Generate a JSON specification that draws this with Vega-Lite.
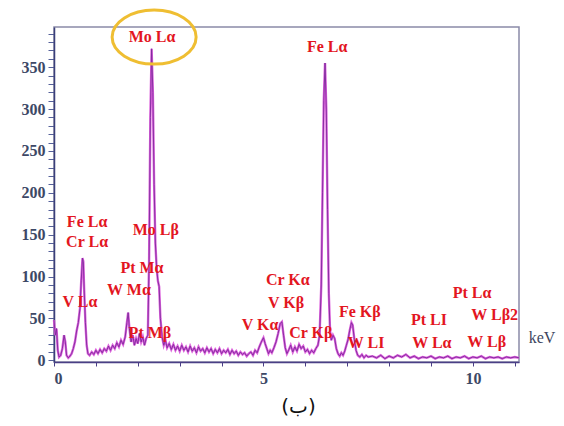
{
  "$schema": "https://vega.github.io/schema/vega-lite/v6.json",
  "autosize": "none",
  "width": 465,
  "height": 335,
  "padding": {"left": 54, "top": 27, "right": 45, "bottom": 64},
  "background": "white",
  "config": {
    "view": {"stroke": "#8a8aa8", "strokeWidth": 1.5},
    "axis": {"grid": false, "labelOverlap": false}
  },
  "datasets": {
    "spectrum": [
      {"keV":0.00,"counts":48},{"keV":0.03,"counts":30},{"keV":0.06,"counts":38},{"keV":0.09,"counts":12},{"keV":0.12,"counts":4},{"keV":0.16,"counts":6},{"keV":0.20,"counts":14},{"keV":0.24,"counts":30},{"keV":0.27,"counts":22},{"keV":0.30,"counts":6},{"keV":0.34,"counts":3},{"keV":0.38,"counts":5},{"keV":0.42,"counts":8},{"keV":0.46,"counts":14},{"keV":0.50,"counts":22},{"keV":0.54,"counts":35},{"keV":0.58,"counts":45},{"keV":0.62,"counts":62},{"keV":0.65,"counts":95},{"keV":0.68,"counts":122},{"keV":0.70,"counts":118},{"keV":0.72,"counts":85},{"keV":0.75,"counts":45},{"keV":0.78,"counts":18},{"keV":0.81,"counts":8},{"keV":0.85,"counts":6},{"keV":0.90,"counts":10},{"keV":0.95,"counts":7},{"keV":1.00,"counts":12},{"keV":1.05,"counts":8},{"keV":1.10,"counts":13},{"keV":1.15,"counts":9},{"keV":1.20,"counts":14},{"keV":1.25,"counts":11},{"keV":1.30,"counts":17},{"keV":1.35,"counts":12},{"keV":1.40,"counts":18},{"keV":1.45,"counts":14},{"keV":1.50,"counts":21},{"keV":1.55,"counts":16},{"keV":1.60,"counts":24},{"keV":1.65,"counts":19},{"keV":1.70,"counts":28},{"keV":1.74,"counts":45},{"keV":1.77,"counts":57},{"keV":1.80,"counts":38},{"keV":1.84,"counts":22},{"keV":1.88,"counts":30},{"keV":1.92,"counts":18},{"keV":1.96,"counts":26},{"keV":2.00,"counts":20},{"keV":2.04,"counts":32},{"keV":2.08,"counts":22},{"keV":2.12,"counts":28},{"keV":2.16,"counts":18},{"keV":2.20,"counts":26},{"keV":2.24,"counts":30},{"keV":2.27,"counts":120},{"keV":2.30,"counts":290},{"keV":2.33,"counts":372},{"keV":2.36,"counts":320},{"keV":2.39,"counts":210},{"keV":2.42,"counts":140},{"keV":2.45,"counts":110},{"keV":2.48,"counts":95},{"keV":2.51,"counts":88},{"keV":2.54,"counts":50},{"keV":2.58,"counts":28},{"keV":2.62,"counts":18},{"keV":2.66,"counts":24},{"keV":2.70,"counts":15},{"keV":2.75,"counts":20},{"keV":2.80,"counts":13},{"keV":2.85,"counts":19},{"keV":2.90,"counts":12},{"keV":2.95,"counts":17},{"keV":3.00,"counts":11},{"keV":3.05,"counts":18},{"keV":3.10,"counts":12},{"keV":3.15,"counts":16},{"keV":3.20,"counts":10},{"keV":3.25,"counts":17},{"keV":3.30,"counts":11},{"keV":3.35,"counts":15},{"keV":3.40,"counts":9},{"keV":3.45,"counts":16},{"keV":3.50,"counts":11},{"keV":3.55,"counts":14},{"keV":3.60,"counts":9},{"keV":3.65,"counts":15},{"keV":3.70,"counts":10},{"keV":3.75,"counts":14},{"keV":3.80,"counts":8},{"keV":3.85,"counts":13},{"keV":3.90,"counts":9},{"keV":3.95,"counts":14},{"keV":4.00,"counts":8},{"keV":4.05,"counts":12},{"keV":4.10,"counts":9},{"keV":4.15,"counts":13},{"keV":4.20,"counts":7},{"keV":4.25,"counts":12},{"keV":4.30,"counts":8},{"keV":4.35,"counts":11},{"keV":4.40,"counts":6},{"keV":4.45,"counts":10},{"keV":4.50,"counts":7},{"keV":4.55,"counts":9},{"keV":4.60,"counts":5},{"keV":4.65,"counts":8},{"keV":4.70,"counts":10},{"keV":4.75,"counts":6},{"keV":4.80,"counts":12},{"keV":4.85,"counts":9},{"keV":4.90,"counts":16},{"keV":4.95,"counts":22},{"keV":5.00,"counts":27},{"keV":5.04,"counts":20},{"keV":5.08,"counts":14},{"keV":5.12,"counts":8},{"keV":5.16,"counts":12},{"keV":5.20,"counts":9},{"keV":5.25,"counts":15},{"keV":5.30,"counts":22},{"keV":5.35,"counts":32},{"keV":5.40,"counts":44},{"keV":5.44,"counts":46},{"keV":5.48,"counts":30},{"keV":5.52,"counts":15},{"keV":5.56,"counts":8},{"keV":5.60,"counts":12},{"keV":5.65,"counts":18},{"keV":5.70,"counts":10},{"keV":5.75,"counts":16},{"keV":5.80,"counts":11},{"keV":5.85,"counts":19},{"keV":5.90,"counts":14},{"keV":5.95,"counts":17},{"keV":6.00,"counts":10},{"keV":6.05,"counts":13},{"keV":6.10,"counts":8},{"keV":6.15,"counts":12},{"keV":6.20,"counts":9},{"keV":6.25,"counts":14},{"keV":6.30,"counts":18},{"keV":6.34,"counts":30},{"keV":6.38,"counts":90},{"keV":6.41,"counts":200},{"keV":6.44,"counts":310},{"keV":6.47,"counts":355},{"keV":6.50,"counts":300},{"keV":6.53,"counts":180},{"keV":6.56,"counts":80},{"keV":6.59,"counts":35},{"keV":6.62,"counts":24},{"keV":6.66,"counts":30},{"keV":6.70,"counts":26},{"keV":6.74,"counts":14},{"keV":6.78,"counts":8},{"keV":6.82,"counts":5},{"keV":6.86,"counts":9},{"keV":6.90,"counts":6},{"keV":6.94,"counts":11},{"keV":6.98,"counts":18},{"keV":7.02,"counts":25},{"keV":7.06,"counts":36},{"keV":7.10,"counts":45},{"keV":7.13,"counts":42},{"keV":7.17,"counts":25},{"keV":7.21,"counts":12},{"keV":7.25,"counts":6},{"keV":7.30,"counts":4},{"keV":7.35,"counts":7},{"keV":7.40,"counts":3},{"keV":7.45,"counts":6},{"keV":7.50,"counts":4},{"keV":7.60,"counts":5},{"keV":7.70,"counts":3},{"keV":7.80,"counts":6},{"keV":7.90,"counts":2},{"keV":8.00,"counts":5},{"keV":8.10,"counts":3},{"keV":8.20,"counts":6},{"keV":8.30,"counts":4},{"keV":8.40,"counts":7},{"keV":8.50,"counts":3},{"keV":8.60,"counts":5},{"keV":8.70,"counts":2},{"keV":8.80,"counts":4},{"keV":8.90,"counts":3},{"keV":9.00,"counts":5},{"keV":9.10,"counts":2},{"keV":9.20,"counts":4},{"keV":9.30,"counts":3},{"keV":9.40,"counts":5},{"keV":9.50,"counts":2},{"keV":9.60,"counts":4},{"keV":9.70,"counts":3},{"keV":9.80,"counts":5},{"keV":9.90,"counts":2},{"keV":10.00,"counts":4},{"keV":10.10,"counts":3},{"keV":10.20,"counts":5},{"keV":10.30,"counts":2},{"keV":10.40,"counts":4},{"keV":10.50,"counts":3},{"keV":10.60,"counts":4},{"keV":10.70,"counts":2},{"keV":10.80,"counts":4},{"keV":10.90,"counts":3},{"keV":11.00,"counts":4},{"keV":11.10,"counts":3}
    ],
    "labels": [
      {"keV":2.34,"counts":386,"label":"Mo Lα"},
      {"keV":6.52,"counts":374,"label":"Fe Lα"},
      {"keV":0.79,"counts":165,"label":"Fe Lα"},
      {"keV":0.79,"counts":141,"label":"Cr Lα"},
      {"keV":0.62,"counts":70,"label":"V Lα"},
      {"keV":2.43,"counts":156,"label":"Mo Lβ"},
      {"keV":2.10,"counts":110,"label":"Pt Mα"},
      {"keV":1.79,"counts":84,"label":"W Mα"},
      {"keV":2.29,"counts":33,"label":"Pt Mβ"},
      {"keV":5.58,"counts":96,"label":"Cr Kα"},
      {"keV":5.54,"counts":68,"label":"V Kβ"},
      {"keV":4.92,"counts":42,"label":"V Kα"},
      {"keV":6.13,"counts":33,"label":"Cr Kβ"},
      {"keV":7.30,"counts":58,"label":"Fe Kβ"},
      {"keV":7.45,"counts":21,"label":"W LI"},
      {"keV":8.95,"counts":48,"label":"Pt LI"},
      {"keV":9.02,"counts":21,"label":"W Lα"},
      {"keV":9.98,"counts":80,"label":"Pt Lα"},
      {"keV":10.52,"counts":54,"label":"W Lβ2"},
      {"keV":10.33,"counts":22,"label":"W Lβ"}
    ],
    "unit": [{"keV":11.65,"counts":27,"label":"keV"}],
    "highlight": [{"keV":2.39,"counts":386}]
  },
  "encoding": {
    "x": {
      "field": "keV", "type": "quantitative",
      "scale": {"domain": [0, 11.1], "nice": false, "zero": false},
      "axis": {
        "values": [0,1,2,3,4,5,6,7,8,9,10,11],
        "labelExpr": "datum.value % 5 === 0 ? '' + datum.value : ''",
        "labelFont": "Liberation Serif", "labelFontSize": 16, "labelFontWeight": "bold",
        "labelColor": "#3d4866", "labelPadding": 4,
        "domainColor": "#4a3f86", "domainWidth": 1.5,
        "tickColor": "#4a3f86", "tickSize": 4,
        "labelOverlap": false,
        "title": "(ب)", "titleFont": "DejaVu Sans", "titleFontSize": 20,
        "titleFontWeight": "normal", "titleColor": "#111111",
        "titleX": 244, "titleY": 44, "titleBaseline": "middle"
      }
    },
    "y": {
      "field": "counts", "type": "quantitative",
      "scale": {"domain": [-2, 398], "nice": false, "zero": false},
      "axis": {
        "values": [0,10,20,30,40,50,60,70,80,90,100,110,120,130,140,150,160,170,180,190,200,210,220,230,240,250,260,270,280,290,300,310,320,330,340,350,360,370,380,390],
        "labelExpr": "datum.value % 50 === 0 ? '' + datum.value : ''",
        "labelFont": "Liberation Serif", "labelFontSize": 16, "labelFontWeight": "bold",
        "labelColor": "#3d4866", "labelPadding": 3,
        "domainColor": "#3a3f7a", "domainWidth": 1.5,
        "tickColor": "#55609a", "tickSize": 6,
        "labelOverlap": false,
        "title": null
      }
    }
  },
  "layer": [
    {
      "data": {"name": "spectrum"},
      "mark": {"type": "line", "color": "#dc62dc", "strokeWidth": 2.4}
    },
    {
      "data": {"name": "spectrum"},
      "mark": {"type": "line", "color": "#7e2a9c", "strokeWidth": 0.9}
    },
    {
      "data": {"name": "labels"},
      "mark": {"type": "text", "font": "Liberation Serif", "fontSize": 16, "fontWeight": "bold", "color": "#e3161f", "baseline": "middle", "align": "center"},
      "encoding": {"text": {"field": "label"}}
    },
    {
      "data": {"name": "unit"},
      "mark": {"type": "text", "font": "Liberation Serif", "fontSize": 16, "color": "#3d4660", "baseline": "middle", "align": "center"},
      "encoding": {"text": {"field": "label"}}
    },
    {
      "data": {"name": "highlight"},
      "mark": {
        "type": "point", "filled": false, "size": 7056,
        "shape": "M -1,0 C -1,-0.355 -0.552,-0.643 0,-0.643 C 0.552,-0.643 1,-0.355 1,0 C 1,0.355 0.552,0.643 0,0.643 C -0.552,0.643 -1,0.355 -1,0 Z",
        "stroke": "#efbe32", "strokeWidth": 3, "opacity": 1
      }
    }
  ]
}
